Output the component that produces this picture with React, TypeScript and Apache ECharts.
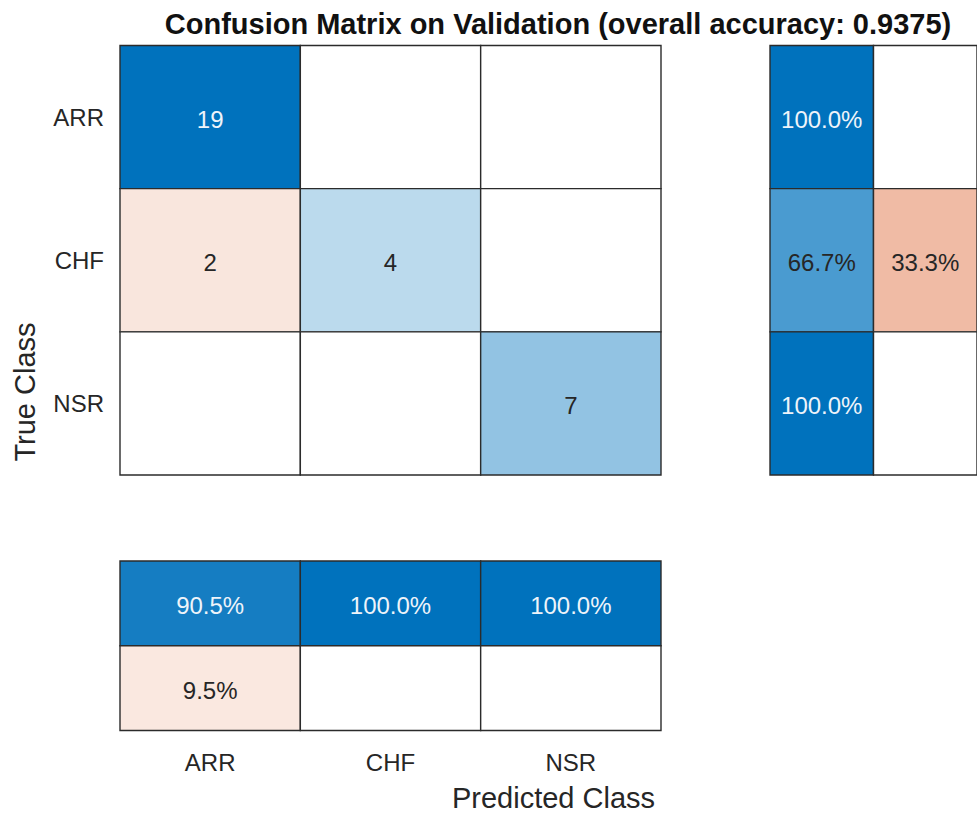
import React, { useEffect, useRef } from "react";
import * as echarts from "echarts";

// Class names (true rows, predicted columns)
const classes = ["ARR", "CHF", "NSR"];

// Confusion counts: counts[trueIdx][predIdx]
const countsARR = [19, 0, 0];
const countsCHF = [2, 4, 0];
const countsNSR = [0, 0, 7];
const counts = [countsARR, countsCHF, countsNSR];

// Row summary (per true class): correct % / incorrect %
const rowCorrect = [100.0, 66.7, 100.0];
const rowIncorrect = [0, 33.3, 0];

// Column summary (per predicted class): correct % / incorrect %
const colCorrect = [90.5, 100.0, 100.0];
const colIncorrect = [9.5, 0, 0];

const overallAccuracy = "0.9375";

const FONT = "'Liberation Sans', Arial, Helvetica, sans-serif";
const BLUE = [0, 114, 189];
const ORANGE = [217, 83, 25];
const TEXT = "#262626";

type Cell = { value: number[]; fill: string; textColor: string; text: string };

function shade(base: number[], t: number): string {
  if (t <= 0) return "#ffffff";
  const g = Math.pow(Math.min(1, t), 0.85);
  const c = base.map((b) => Math.round(255 - g * (255 - b)));
  return `rgb(${c[0]},${c[1]},${c[2]})`;
}

function cell(x: number, y: number, v: number, t: number, diag: boolean, text: string): Cell {
  return {
    value: [x, y, v],
    fill: shade(diag ? BLUE : ORANGE, t),
    textColor: t > 0.75 ? "#eef4fa" : TEXT,
    text,
  };
}

// Draws one bordered cell per data item, sized by the category bands
function cellSeries(cells: Cell[], axisIndex: number) {
  return {
    type: "custom",
    xAxisIndex: axisIndex,
    yAxisIndex: axisIndex,
    data: cells.map((c) => c.value),
    silent: true,
    renderItem: (params: any, api: any) => {
      const c = cells[params.dataIndex];
      const center = api.coord([api.value(0), api.value(1)]);
      const size = api.size([1, 1]);
      return {
        type: "group",
        children: [
          {
            type: "rect",
            shape: {
              x: center[0] - size[0] / 2,
              y: center[1] - size[1] / 2,
              width: size[0],
              height: size[1],
            },
            style: { fill: c.fill, stroke: "#2b2b2b", lineWidth: 1.4 },
          },
          {
            type: "text",
            x: center[0],
            y: center[1] + 2,
            style: {
              text: c.text,
              fill: c.textColor,
              fontSize: 24,
              fontFamily: FONT,
              align: "center",
              verticalAlign: "middle",
            },
          },
        ],
      };
    },
  };
}

export default function App() {
  const ref = useRef<HTMLDivElement>(null);

  useEffect(() => {
    if (!ref.current) return;
    const chart = echarts.init(ref.current, undefined, { renderer: "svg" });

    const maxCount = Math.max(...counts.flat());

    const mainCells: Cell[] = [];
    counts.forEach((row, i) =>
      row.forEach((v, j) => {
        mainCells.push(cell(j, i, v, v / maxCount, i === j, v > 0 ? String(v) : ""));
      })
    );

    const pct = (v: number) => (v > 0 ? v.toFixed(1) + "%" : "");

    const rowCells: Cell[] = [];
    classes.forEach((_, i) => {
      rowCells.push(cell(0, i, rowCorrect[i], rowCorrect[i] / 100, true, pct(rowCorrect[i])));
      rowCells.push(cell(1, i, rowIncorrect[i], rowIncorrect[i] / 100, false, pct(rowIncorrect[i])));
    });

    const colCells: Cell[] = [];
    classes.forEach((_, j) => {
      colCells.push(cell(j, 0, colCorrect[j], colCorrect[j] / 100, true, pct(colCorrect[j])));
      colCells.push(cell(j, 1, colIncorrect[j], colIncorrect[j] / 100, false, pct(colIncorrect[j])));
    });

    const hidden = { show: false };

    chart.setOption({
      animation: false,
      backgroundColor: "#ffffff",
      textStyle: { fontFamily: FONT },
      title: {
        text: `Confusion Matrix on Validation (overall accuracy: ${overallAccuracy})`,
        left: 553,
        top: 4,
        textAlign: "center",
        textStyle: { fontSize: 29, fontWeight: "bold", color: "#111111", fontFamily: FONT },
      },
      grid: [
        { left: 120, top: 45.5, width: 541, height: 429.5 },
        { left: 770, top: 45.5, width: 216, height: 429.5 },
        { left: 120, top: 561, width: 541, height: 169.5 },
      ],
      xAxis: [
        { type: "category", gridIndex: 0, data: classes, show: false },
        { type: "category", gridIndex: 1, data: ["correct", "incorrect"], show: false },
        {
          type: "category",
          gridIndex: 2,
          data: classes,
          axisLine: hidden,
          axisTick: hidden,
          splitLine: hidden,
          axisLabel: { fontSize: 24, color: TEXT, margin: 20, fontFamily: FONT },
        },
      ],
      yAxis: [
        {
          type: "category",
          gridIndex: 0,
          data: classes,
          inverse: true,
          axisLine: hidden,
          axisTick: hidden,
          splitLine: hidden,
          axisLabel: {
            fontSize: 24,
            color: TEXT,
            margin: 16,
            fontFamily: FONT,
            padding: [4, 0, 0, 0],
          },
        },
        { type: "category", gridIndex: 1, data: classes, inverse: true, show: false },
        { type: "category", gridIndex: 2, data: ["correct", "incorrect"], inverse: true, show: false },
      ],
      series: [cellSeries(mainCells, 0), cellSeries(rowCells, 1), cellSeries(colCells, 2)],
      graphic: [
        {
          type: "text",
          x: 24.5,
          y: 392,
          rotation: Math.PI / 2,
          style: {
            text: "True Class",
            fontSize: 29,
            fontFamily: FONT,
            fill: TEXT,
            align: "center",
            verticalAlign: "middle",
          },
        },
        {
          type: "text",
          x: 553.5,
          y: 797.5,
          style: {
            text: "Predicted Class",
            fontSize: 29,
            fontFamily: FONT,
            fill: TEXT,
            align: "center",
            verticalAlign: "middle",
          },
        },
      ],
    });

    return () => chart.dispose();
  }, []);

  return (
    <div
      ref={ref}
      style={{ position: "fixed", left: 0, top: 0, width: 977, height: 813, overflow: "hidden" }}
    />
  );
}
